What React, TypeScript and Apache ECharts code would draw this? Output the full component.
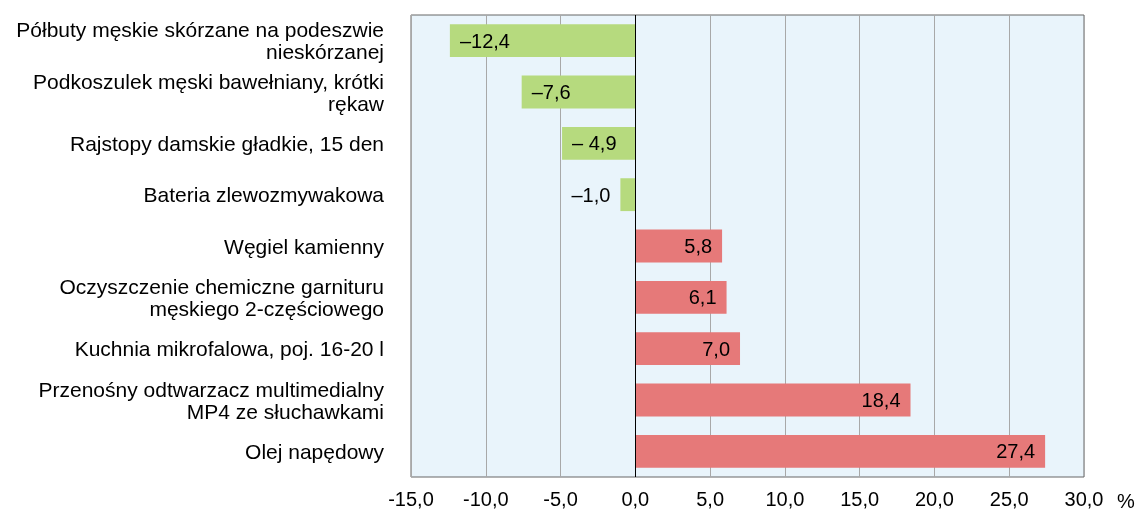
import React, { useEffect, useRef } from "react";
import * as echarts from "echarts";

const categories: string[] = [
  "Półbuty męskie skórzane na podeszwie\nnieskórzanej",
  "Podkoszulek męski bawełniany, krótki\nrękaw",
  "Rajstopy damskie gładkie, 15 den",
  "Bateria zlewozmywakowa",
  "Węgiel kamienny",
  "Oczyszczenie chemiczne garnituru\nmęskiego 2-częściowego",
  "Kuchnia mikrofalowa, poj. 16-20 l",
  "Przenośny odtwarzacz multimedialny\nMP4 ze słuchawkami",
  "Olej napędowy",
];

const values: number[] = [-12.4, -7.6, -4.9, -1.0, 5.8, 6.1, 7.0, 18.4, 27.4];

const valueLabels: string[] = [
  "–12,4",
  "–7,6",
  "– 4,9",
  "–1,0",
  "5,8",
  "6,1",
  "7,0",
  "18,4",
  "27,4",
];

const axisMin = -15;
const axisMax = 30;
const axisStep = 5;
const unitLabel = "%";

const GREEN = "#b6da7e";
const RED = "#e67979";
const FONT = "'Liberation Sans', Arial, sans-serif";

export default function App() {
  const ref = useRef<HTMLDivElement>(null);

  useEffect(() => {
    if (!ref.current) return;
    const chart = echarts.init(ref.current, undefined, { renderer: "svg" });

    const data = values.map((v, i) => {
      const neg = v < 0;
      const small = Math.abs(v) < 2;
      return {
        value: v,
        itemStyle: { color: neg ? GREEN : RED },
        label: {
          show: true,
          position: neg ? (small ? "left" : "insideLeft") : "insideRight",
          distance: 10,
          formatter: () => valueLabels[i],
          color: "#000",
          fontSize: 20,
          fontFamily: FONT,
        },
      };
    });

    chart.setOption({
      animation: false,
      grid: {
        left: 411,
        right: 51,
        top: 15,
        bottom: 35,
        show: true,
        backgroundColor: "#e9f4fb",
        borderColor: "#666",
        borderWidth: 1,
      },
      xAxis: {
        type: "value",
        min: axisMin,
        max: axisMax,
        interval: axisStep,
        axisLine: { show: false },
        axisTick: { show: false },
        splitLine: { show: true, lineStyle: { color: "#a8a8a8", width: 1 } },
        axisLabel: {
          margin: 12,
          color: "#000",
          fontSize: 20,
          fontFamily: FONT,
          formatter: (v: number) => v.toFixed(1).replace(".", ","),
        },
      },
      yAxis: {
        type: "category",
        data: categories,
        inverse: true,
        axisLine: { show: false },
        axisTick: { show: false },
        splitLine: { show: false },
        axisLabel: {
          margin: 27,
          color: "#000",
          fontSize: 21,
          lineHeight: 22,
          padding: [7, 0, 0, 0],
          align: "right",
          fontFamily: FONT,
        },
      },
      series: [
        {
          type: "bar",
          data,
          barCategoryGap: "36%",
          markLine: {
            silent: true,
            symbol: "none",
            label: { show: false },
            lineStyle: { color: "#000", width: 1, type: "solid" },
            data: [{ xAxis: 0 }],
          },
        },
      ],
      graphic: [
        {
          type: "text",
          left: 1117,
          top: 491,
          style: {
            text: unitLabel,
            fill: "#000",
            fontSize: 20,
            fontFamily: FONT,
          },
        },
      ],
    });

    return () => chart.dispose();
  }, []);

  return (
    <div
      ref={ref}
      style={{ position: "fixed", left: 0, top: 0, width: 1135, height: 512 }}
    />
  );
}
